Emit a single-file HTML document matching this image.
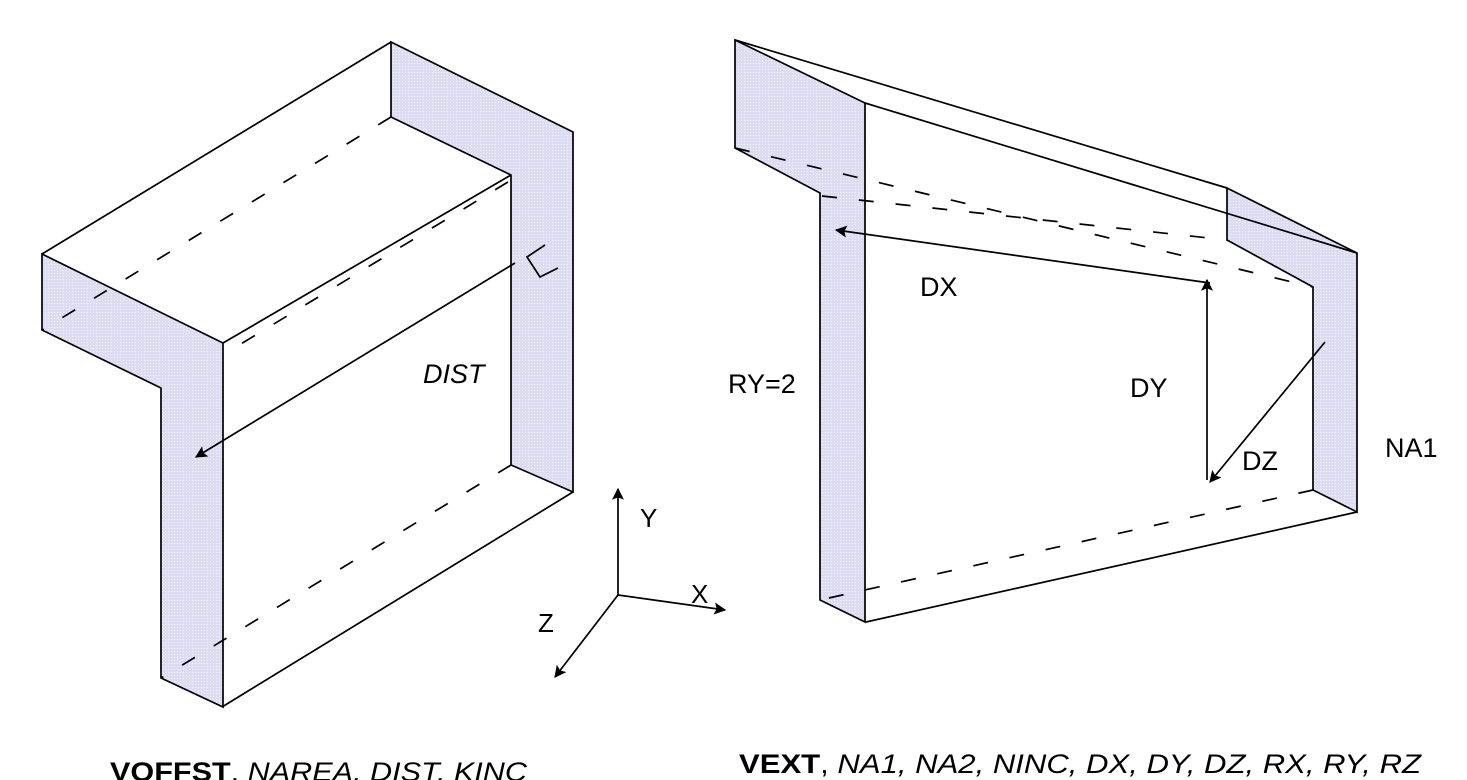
<!DOCTYPE html>
<html><head><meta charset="utf-8"><style>html,body{margin:0;padding:0;background:#fff;overflow:hidden}svg{display:block}</style></head>
<body>
<svg width="1467" height="780" viewBox="0 0 1467 780" xmlns="http://www.w3.org/2000/svg" font-family="Liberation Sans, Arial, sans-serif">
<defs>
<pattern id="dots" width="3" height="3" patternUnits="userSpaceOnUse"><rect width="3" height="3" fill="#dcdcf4"/><rect width="1" height="1" fill="#f4f4ee"/></pattern>
<marker id="ahb" viewBox="0 0 10 10" refX="9" refY="5" markerWidth="17" markerHeight="12" orient="auto" markerUnits="userSpaceOnUse"><path d="M0,0 L10,5 L0,10 L2,5 z" fill="#000"/></marker>
</defs>
<g stroke="#000" stroke-width="1.7" fill="none" stroke-linejoin="miter">
<!-- LEFT FIGURE -->
<polygon points="42,254 223,343 223,707 161,678 161,388 42,330" fill="url(#dots)"/>
<polygon points="391,42 573,132 573,492 511,465 511,175 391,117" fill="url(#dots)"/>
<polyline points="42,254 391,42"/>
<line x1="223" y1="343" x2="511" y2="175"/>
<line x1="573" y1="492" x2="222" y2="707"/>
<g stroke-dasharray="15,22">
<line x1="391" y1="117" x2="42" y2="330"/>
<line x1="508" y1="182" x2="226" y2="353"/>
<line x1="511" y1="465" x2="161" y2="678"/>
</g>
<line x1="515" y1="263" x2="196" y2="457" marker-end="url(#ahb)"/>
<polyline points="545,245 527,257 540,277 558,268"/>
<!-- axes -->
<line x1="618" y1="595" x2="618" y2="489" marker-end="url(#ahb)"/>
<line x1="618" y1="595" x2="725" y2="610" marker-end="url(#ahb)"/>
<line x1="618" y1="595" x2="555" y2="677" marker-end="url(#ahb)"/>
<!-- RIGHT FIGURE -->
<polygon points="735,40 865,103 865,622 820,600 820,193 735,148" fill="url(#dots)"/>
<polygon points="1227,188 1357,253 1357,512 1313,490 1313,287 1227,240" fill="url(#dots)"/>
<line x1="735" y1="40" x2="1227" y2="188"/>
<line x1="865" y1="103" x2="1357" y2="253"/>
<line x1="1357" y1="512" x2="866" y2="622"/>
<g stroke-dasharray="15,22">
<line x1="735" y1="148" x2="1313" y2="287"/>
<line x1="822" y1="196" x2="1227" y2="240"/>
<line x1="1313" y1="490" x2="820" y2="600"/>
</g>
<line x1="1210" y1="283" x2="836" y2="230" marker-end="url(#ahb)"/>
<line x1="1207" y1="480" x2="1207" y2="280" marker-end="url(#ahb)"/>
<line x1="1325" y1="342" x2="1210" y2="482" marker-end="url(#ahb)"/>
</g>
<g font-size="27" fill="#000">
<text x="423" y="383" font-style="italic">DIST</text>
<text x="640" y="527" font-size="26">Y</text>
<text x="691" y="603" font-size="26">X</text>
<text x="538" y="632" font-size="26">Z</text>
<text x="920" y="296">DX</text>
<text x="1130" y="397">DY</text>
<text x="1242" y="470">DZ</text>
<text x="1385" y="457">NA1</text>
<text x="728" y="393">RY=2</text>
<text x="739" y="773" textLength="682" lengthAdjust="spacingAndGlyphs"><tspan font-weight="bold">VEXT</tspan>, <tspan font-style="italic">NA1, NA2, NINC, DX, DY, DZ, RX, RY, RZ</tspan></text>
<text x="110" y="781" textLength="417" lengthAdjust="spacingAndGlyphs"><tspan font-weight="bold">VOFFST</tspan>, <tspan font-style="italic">NAREA, DIST, KINC</tspan></text>
</g>
</svg>
</body></html>
